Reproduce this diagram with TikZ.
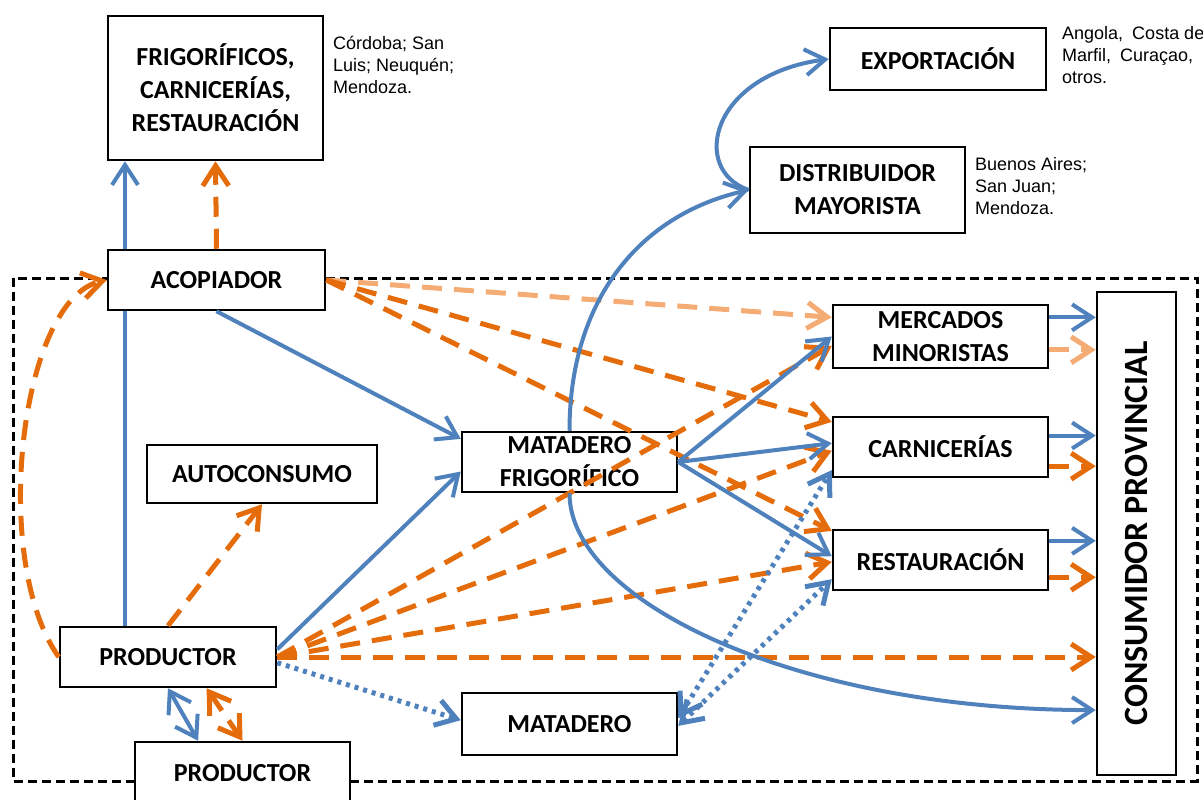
\documentclass[tikz,border=0pt]{standalone}
\usepackage{fontspec}
\setmainfont{Carlito}
\newfontfamily\notefont{Liberation Sans}
\usetikzlibrary{arrows.meta}

\definecolor{azul}{HTML}{4F81BD}
\definecolor{naranja}{HTML}{E46C0A}
\definecolor{claro}{HTML}{F4AC74}

\tikzset{
  caja/.style={draw, line width=2.5pt, fill=white, align=center, inner sep=0pt,
    font=\bfseries\fontsize{26}{33}\selectfont},
  nota/.style={anchor=north west, align=left, inner sep=0pt,
    font=\notefont\fontsize{18}{22}\selectfont},
  azulf/.style={azul, line width=4pt},
  naranjaf/.style={naranja, line width=5pt, dash pattern=on 20pt off 12pt},
  clarof/.style={naranjaf, claro},
  puntos/.style={azul, line width=5pt, dash pattern=on 4pt off 5pt},
  >={Straight Barb[length=20pt, width=26pt]}
}

\begin{document}
\begin{tikzpicture}[x=1pt, y=-1pt]
\useasboundingbox (0,0) rectangle (1203,800);

\draw[line width=3pt, dash pattern=on 9pt off 5pt] (13,278) rectangle (1197,781);

\node[caja, minimum width=215pt, minimum height=144pt] (frig) at (215.5,88) {FRIGORÍFICOS,\\CARNICERÍAS,\\RESTAURACIÓN};
\node[caja, minimum width=217pt, minimum height=60pt] (acop) at (216.5,280) {ACOPIADOR};
\node[caja, minimum width=216pt, minimum height=62pt] (expo) at (938,59) {EXPORTACIÓN};
\node[caja, minimum width=215pt, minimum height=86pt] (dist) at (857.5,190) {DISTRIBUIDOR\\MAYORISTA};
\node[caja, minimum width=215pt, minimum height=63pt] (merc) at (940.5,336.5) {MERCADOS\\MINORISTAS};
\node[caja, minimum width=215pt, minimum height=60pt] (carn) at (940.5,447) {CARNICERÍAS};
\node[caja, minimum width=215pt, minimum height=60pt] (rest) at (940.5,560) {RESTAURACIÓN};
\node[caja, minimum width=79pt, minimum height=483pt] (cons) at (1136.5,533.5) {\rotatebox{90}{\fontsize{34}{40}\selectfont CONSUMIDOR PROVINCIAL}};
\node[caja, minimum width=215pt, minimum height=60pt] (matf) at (569.5,462) {MATADERO\\FRIGORÍFICO};
\node[caja, minimum width=230pt, minimum height=58pt] (auto) at (262,474) {AUTOCONSUMO};
\node[caja, minimum width=216pt, minimum height=60pt] (prod) at (168,657) {PRODUCTOR};
\node[caja, minimum width=215pt, minimum height=62pt] (mata) at (569.5,724) {MATADERO};
\node[caja, minimum width=215pt, minimum height=62pt] (prod2) at (242.5,773) {PRODUCTOR};

\node[nota] (notafrig) at (333,36) {Córdoba; San\\Luis; Neuquén;\\Mendoza.};
\node[nota] (notaexpo) at (1062,26) {Angola,\hspace{4pt} Costa de\\Marfil,\hspace{4pt} Curaçao,\\otros.};
\node[nota] (notadist) at (975,157) {Buenos Aires;\\San Juan;\\Mendoza.};

\draw[azulf] ([xshift=-43pt]prod.north) -- ([xshift=-91.5pt]acop.south);
\draw[azulf, ->] ([xshift=-91.5pt]acop.north) -- ([xshift=-90.5pt]frig.south);
\draw[naranjaf, ->] (acop.north) -- (frig.south);
\draw[naranjaf, ->] (prod.west) .. controls (-10,560) and (20,300) .. (acop.west);

\draw[azulf, ->] (acop.south) -- (matf.168);
\draw[azulf, ->] (prod.4) -- (matf.185);
\draw[puntos, ->] (prod.-3) -- (mata.178);
\draw[azulf, <->] (prod.south) -- (prod2.144);
\draw[naranjaf, <->] (prod.-39) -- (prod2.north);
\draw[naranjaf, ->] (prod.north) -- (auto.south);

\draw[clarof, ->] (acop.east) -- (merc.170);
\draw[naranjaf, ->] (acop.east) -- (carn.167);
\draw[naranjaf, ->] (acop.east) -- (rest.165);

\draw[naranjaf, ->] (prod.east) -- (merc.185);
\draw[naranjaf, ->] (prod.east) -- (carn.182);
\draw[naranjaf, ->] (prod.east) -- (rest.181);
\draw[naranjaf, ->] (prod.east) -- (prod.east -| cons.west);

\draw[azulf, ->] (matf.east) -- (merc.west);
\draw[azulf, ->] (matf.east) -- (carn.178);
\draw[azulf, ->] (matf.east) -- (rest.178);

\draw[puntos, <->] (mata.3) -- (carn.192);
\draw[puntos, <->] (mata.-1) -- (rest.190);

\draw[azulf, ->] (matf.north) .. controls +(0,-130) and +(-110,25) .. (dist.west);
\draw[azulf, ->] (dist.west) .. controls (690,170) and (710,75) .. (expo.west);
\draw[azulf, ->] (matf.south) .. controls +(0,108) and +(-300,0) .. (cons.257);

\draw[azulf, ->] (merc.10) -- (merc.10 -| cons.west);
\draw[clarof, ->] (merc.-7) -- (merc.-7 -| cons.west);
\draw[azulf, ->] (carn.6) -- (carn.6 -| cons.west);
\draw[naranjaf, ->] (carn.-10) -- (carn.-10 -| cons.west);
\draw[azulf, ->] (rest.10) -- (rest.10 -| cons.west);
\draw[naranjaf, ->] (rest.-9) -- (rest.-9 -| cons.west);

\end{tikzpicture}
\end{document}
